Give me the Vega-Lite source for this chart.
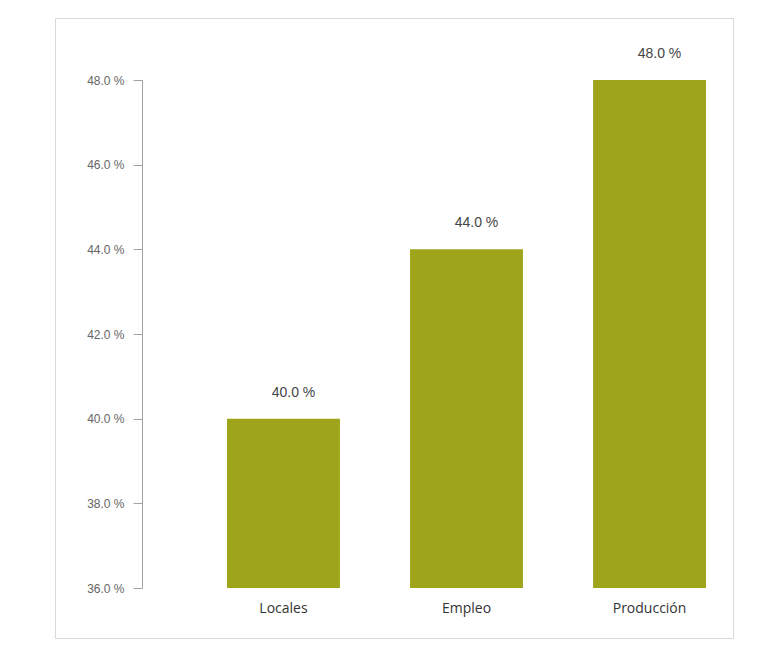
{
  "$schema": "https://vega.github.io/schema/vega-lite/v6.json",
  "autosize": "none",
  "width": 678,
  "height": 620,
  "padding": {"left": 55, "top": 18, "right": 31, "bottom": 10},
  "background": "white",
  "config": {
    "view": {"stroke": "#d9d9d9", "strokeWidth": 1}
  },
  "data": {
    "values": [
      {"category": "Locales", "value": 40.0, "base": 36, "label": "40.0 %"},
      {"category": "Empleo", "value": 44.0, "base": 36, "label": "44.0 %"},
      {"category": "Producción", "value": 48.0, "base": 36, "label": "48.0 %"}
    ]
  },
  "encoding": {
    "x": {
      "field": "category",
      "type": "nominal",
      "sort": null,
      "scale": {"range": [172, 651], "paddingInner": 0.383, "paddingOuter": 0},
      "axis": {
        "title": null,
        "domain": false,
        "ticks": false,
        "labelAngle": 0,
        "labelFont": "Open Sans",
        "labelFontSize": 14,
        "labelColor": "#333333",
        "labelPadding": 0,
        "offset": -37
      }
    },
    "y": {
      "field": "value",
      "type": "quantitative",
      "scale": {"domain": [36, 48], "range": [570, 62], "nice": false, "zero": false},
      "axis": {
        "title": null,
        "grid": false,
        "values": [36, 38, 40, 42, 44, 46, 48],
        "labelExpr": "format(datum.value, '.1f') + ' %'",
        "offset": -87,
        "domainColor": "#a0a0a0",
        "tickColor": "#a0a0a0",
        "tickSize": 9,
        "labelPadding": 9,
        "labelFont": "Liberation Sans",
        "labelFontSize": 12,
        "labelColor": "#666666"
      }
    }
  },
  "layer": [
    {
      "mark": {"type": "bar", "color": "#9fa51a"},
      "encoding": {"y2": {"field": "base"}}
    },
    {
      "mark": {"type": "text", "dx": 10, "dy": -26, "baseline": "middle", "font": "Liberation Sans", "fontSize": 14, "color": "#444444"},
      "encoding": {"text": {"field": "label", "type": "nominal"}}
    }
  ]
}
